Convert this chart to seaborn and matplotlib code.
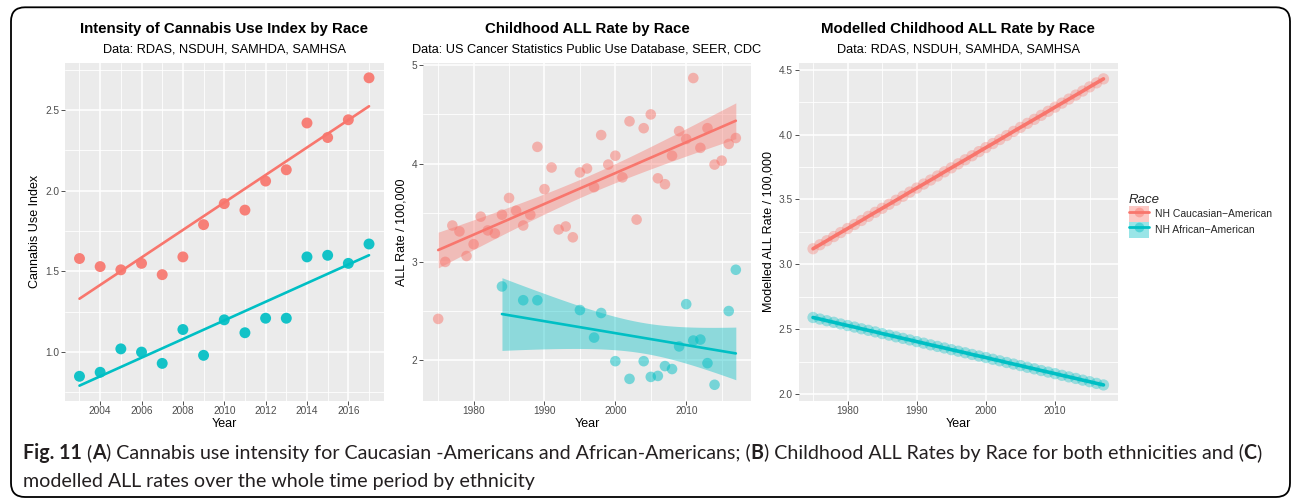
import matplotlib
matplotlib.use("Agg")
import matplotlib.pyplot as plt
from matplotlib import font_manager
from matplotlib.patches import FancyBboxPatch, Patch
from matplotlib.lines import Line2D
from matplotlib.legend_handler import HandlerTuple
from matplotlib.ticker import FixedLocator, FormatStrFormatter
from matplotlib.colors import to_rgba
import numpy as np
import pandas as pd
import seaborn as sns

# ---- Panel A: intensity of cannabis use index ----
years_use = [2003, 2004, 2005, 2006, 2007, 2008, 2009, 2010,
             2011, 2012, 2013, 2014, 2015, 2016, 2017]
use_caucasian = [1.58, 1.53, 1.51, 1.55, 1.48, 1.59, 1.79, 1.92,
                 1.88, 2.06, 2.13, 2.42, 2.33, 2.44, 2.70]
use_african = [0.85, 0.875, 1.02, 1.00, 0.93, 1.14, 0.98, 1.20,
               1.12, 1.21, 1.21, 1.59, 1.60, 1.55, 1.67]

# ---- Panel B: observed childhood ALL rate ----
years_all_caucasian = list(range(1975, 2018))
all_caucasian = [2.42, 3.00, 3.37, 3.31, 3.06, 3.18, 3.46, 3.32, 3.29, 3.48,
                 3.65, 3.52, 3.37, 3.48, 4.17, 3.74, 3.96, 3.33, 3.36, 3.25,
                 3.91, 3.95, 3.76, 4.29, 3.99, 4.08, 3.86, 4.43, 3.43, 4.36,
                 4.50, 3.85, 3.79, 4.08, 4.33, 4.25, 4.87, 4.16, 4.36, 3.99,
                 4.03, 4.20, 4.26]
years_all_african = [1984, 1987, 1989, 1995, 1997, 1998, 2000, 2002, 2004,
                     2005, 2006, 2007, 2008, 2009, 2010, 2011, 2012, 2013,
                     2014, 2016, 2017]
all_african = [2.75, 2.61, 2.61, 2.51, 2.23, 2.48, 1.99, 1.81, 1.99,
               1.83, 1.84, 1.94, 1.91, 2.14, 2.57, 2.20, 2.21, 1.97,
               1.75, 2.50, 2.92]

# ---- Panel C: modelled childhood ALL rate ----
years_model = list(range(1975, 2018))
model_caucasian = [3.120, 3.151, 3.182, 3.214, 3.245, 3.276, 3.307, 3.338,
                   3.370, 3.401, 3.432, 3.463, 3.494, 3.525, 3.557, 3.588,
                   3.619, 3.650, 3.681, 3.713, 3.744, 3.775, 3.806, 3.837,
                   3.869, 3.900, 3.931, 3.962, 3.993, 4.025, 4.056, 4.087,
                   4.118, 4.149, 4.180, 4.212, 4.243, 4.274, 4.305, 4.336,
                   4.368, 4.399, 4.430]
model_african = [2.590, 2.578, 2.565, 2.553, 2.540, 2.528, 2.516, 2.503,
                 2.491, 2.479, 2.466, 2.454, 2.441, 2.429, 2.417, 2.404,
                 2.392, 2.379, 2.367, 2.355, 2.342, 2.330, 2.318, 2.305,
                 2.293, 2.281, 2.268, 2.256, 2.243, 2.231, 2.219, 2.206,
                 2.194, 2.181, 2.169, 2.157, 2.144, 2.132, 2.120, 2.107,
                 2.095, 2.082, 2.070]

race_labels = ["NH Caucasian\u2212American", "NH African\u2212American"]

sns.set_theme(style="darkgrid")
available = {f.name for f in font_manager.fontManager.ttflist}
base_family = next((f for f in ("Liberation Sans", "Arimo", "Roboto") if f in available),
                   "DejaVu Sans")
plt.rcParams["font.family"] = [base_family, "DejaVu Sans"]

RED = "#F8766D"
CYAN = "#00BFC4"
PANEL = "#EBEBEB"
W, H = 1296, 499

fig = plt.figure(figsize=(W / 100, H / 100), dpi=100)
fig.patch.set_facecolor("white")


def add_panel(left, right, top=63.3, bottom=400.5):
    return fig.add_axes([left / W, 1 - bottom / H, (right - left) / W, (bottom - top) / H])


def style_panel(ax, xlim, ylim, xmaj, xmin, ymaj, ymin, yfmt, ylabel, ylab_x,
                title, subtitle):
    ax.set_facecolor(PANEL)
    ax.set_xlim(xlim)
    ax.set_ylim(ylim)
    ax.xaxis.set_major_locator(FixedLocator(xmaj))
    ax.xaxis.set_minor_locator(FixedLocator(xmin))
    ax.yaxis.set_major_locator(FixedLocator(ymaj))
    ax.yaxis.set_minor_locator(FixedLocator(ymin))
    ax.yaxis.set_major_formatter(FormatStrFormatter(yfmt))
    ax.xaxis.set_major_formatter(FormatStrFormatter("%d"))
    ax.grid(which="major", color="white", linewidth=1.15)
    ax.grid(which="minor", color="white", linewidth=0.6)
    ax.set_axisbelow(True)
    for s in ax.spines.values():
        s.set_visible(False)
    ax.tick_params(which="major", direction="out", length=2.75, width=0.6,
                   color="#333333", labelsize=7.3, labelcolor="#4D4D4D",
                   pad=1.5, bottom=True, left=True)
    ax.tick_params(which="minor", length=0, bottom=False, left=False)
    ax.set_xlabel("Year", fontsize=9, color="black")
    ax.set_ylabel(ylabel, fontsize=9, color="black")
    ax.xaxis.set_label_coords(0.5, -0.0706)
    ax.xaxis.label.set_verticalalignment("center")
    ax.yaxis.set_label_coords(ylab_x, 0.5)
    ax.yaxis.label.set_verticalalignment("center")
    bb = ax.get_position()
    cx = bb.x0 + bb.width / 2
    fig.text(cx, 1 - 29.5 / H, title, ha="center", va="center",
             fontsize=10.8, fontweight="bold", color="black")
    fig.text(cx, 1 - 50 / H, subtitle, ha="center", va="center",
             fontsize=9.2, color="black")


def t_quantile_975(df):
    # Cornish-Fisher expansion of the Student t 97.5% quantile
    z = 1.959964
    return (z + (z**3 + z) / (4 * df)
            + (5 * z**5 + 16 * z**3 + 3 * z) / (96 * df**2)
            + (3 * z**7 + 19 * z**5 + 17 * z**3 - 15 * z) / (384 * df**3))


def smooth_band(ax, x, y, color, alpha=0.4):
    # 95% confidence ribbon of a least-squares line (as geom_smooth(method="lm"))
    x = np.asarray(x, float)
    y = np.asarray(y, float)
    n = len(x)
    slope, intercept = np.polyfit(x, y, 1)
    resid = y - (intercept + slope * x)
    s = np.sqrt(np.sum(resid**2) / (n - 2))
    grid = np.linspace(x.min(), x.max(), 100)
    fit = intercept + slope * grid
    se = s * np.sqrt(1 / n + (grid - x.mean())**2 / np.sum((x - x.mean())**2))
    half = t_quantile_975(n - 2) * se
    ax.fill_between(grid, fit - half, fit + half, color=color, alpha=alpha,
                    linewidth=0, zorder=3)


# ---------------- Panel A ----------------
axA = add_panel(65, 383.5)
df_use = pd.DataFrame({"Year": years_use, "cauc": use_caucasian, "afr": use_african})
for col, c in (("cauc", RED), ("afr", CYAN)):
    sns.scatterplot(data=df_use, x="Year", y=col, color=c, s=62,
                    edgecolor="none", alpha=0.92, ax=axA, zorder=2)
    sns.regplot(data=df_use, x="Year", y=col, ci=None, scatter=False,
                color=c, line_kws=dict(linewidth=1.9, zorder=3), ax=axA)
style_panel(axA, (2002.3, 2017.7), (0.70, 2.79),
            [2004, 2006, 2008, 2010, 2012, 2014, 2016],
            [2003, 2005, 2007, 2009, 2011, 2013, 2015, 2017],
            [1.0, 1.5, 2.0, 2.5], [0.75, 1.25, 1.75, 2.25, 2.75], "%.1f",
            "Cannabis Use Index", -0.0942,
            "Intensity of Cannabis Use Index by Race",
            "Data: RDAS, NSDUH, SAMHDA, SAMHSA")

# ---------------- Panel B ----------------
axB = add_panel(423.3, 750.7)
df_bc = pd.DataFrame({"Year": years_all_caucasian, "rate": all_caucasian})
df_ba = pd.DataFrame({"Year": years_all_african, "rate": all_african})
for df, c in ((df_bc, RED), (df_ba, CYAN)):
    sns.scatterplot(data=df, x="Year", y="rate", color=c, s=58,
                    edgecolor="none", alpha=0.5, ax=axB, zorder=2)
    smooth_band(axB, df["Year"], df["rate"], c)
    sns.regplot(data=df, x="Year", y="rate", ci=None, scatter=False,
                color=c, line_kws=dict(linewidth=1.9, zorder=4), ax=axB)
style_panel(axB, (1972.9, 2019.1), (1.59, 5.02),
            [1980, 1990, 2000, 2010], [1975, 1985, 1995, 2005, 2015],
            [2, 3, 4, 5], [2.5, 3.5, 4.5], "%d",
            "ALL Rate / 100,000", -0.066,
            "Childhood ALL Rate by Race",
            "Data: US Cancer Statistics Public Use Database, SEER, CDC")

# ---------------- Panel C ----------------
axC = add_panel(798.5, 1118)
df_m = pd.DataFrame({"Year": years_model, "cauc": model_caucasian, "afr": model_african})
for col, c in (("cauc", RED), ("afr", CYAN)):
    sns.lineplot(data=df_m, x="Year", y=col, color=c, linewidth=2.6, ax=axC, zorder=3)
    sns.scatterplot(data=df_m, x="Year", y=col, color=c, s=66,
                    edgecolor="none", alpha=0.35, ax=axC, zorder=4)
style_panel(axC, (1972.9, 2019.1), (1.95, 4.55),
            [1980, 1990, 2000, 2010], [1975, 1985, 1995, 2005, 2015],
            [2.0, 2.5, 3.0, 3.5, 4.0, 4.5], [2.25, 2.75, 3.25, 3.75, 4.25], "%.1f",
            "Modelled ALL Rate / 100,000", -0.094,
            "Modelled Childhood ALL Rate by Race",
            "Data: RDAS, NSDUH, SAMHDA, SAMHSA")

# ---------------- Legend ----------------
handles = []
for c in (RED, CYAN):
    box = Patch(facecolor=to_rgba(c, 0.4), edgecolor="none")
    key = Line2D([], [], color=c, linewidth=2.0, marker="o", markersize=7,
                 markerfacecolor=to_rgba(c, 0.45), markeredgecolor="none")
    handles.append((box, key))
leg = fig.legend(handles, race_labels, handler_map={tuple: HandlerTuple(ndivide=1, pad=0)},
                 title="Race", loc="upper left",
                 bbox_to_anchor=(1129 / W, 1 - 194 / H), frameon=False,
                 fontsize=7.5, title_fontsize=9.5, handlelength=1.95,
                 handleheight=1.95, labelspacing=0.0, handletextpad=0.55,
                 borderpad=0, borderaxespad=0, alignment="left")
leg.get_title().set_fontstyle("italic")

# ---------------- Rounded frame ----------------
frame = FancyBboxPatch((0.11, 0.02), 12.79, 4.897,
                       boxstyle="round,pad=0,rounding_size=0.14",
                       transform=fig.dpi_scale_trans, fill=False,
                       edgecolor="black", linewidth=1.3)
fig.add_artist(frame)

# ---------------- Caption ----------------
cap_family = next((f for f in ("Liberation Sans Narrow", "Lato") if f in available), base_family)
renderer = fig.canvas.get_renderer()


def run_width(text, size, bold):
    kw = dict(fontsize=size, fontweight="bold" if bold else "normal", family=cap_family)
    t1 = fig.text(0, 0, "|" + text + "|", **kw)
    t2 = fig.text(0, 0, "||", **kw)
    w = t1.get_window_extent(renderer).width - t2.get_window_extent(renderer).width
    t1.remove()
    t2.remove()
    return w


def draw_runs(runs, x_px, y_px, size):
    x = x_px
    for text, bold in runs:
        fig.text(x / W, 1 - y_px / H, text, fontsize=size,
                 fontweight="bold" if bold else "normal", family=cap_family,
                 ha="left", va="center", color="#231F20")
        x += run_width(text, size, bold)


line1 = [("Fig. 11", True), (" (", False), ("A", True),
         (") Cannabis use intensity for Caucasian -Americans and African-Americans; (", False),
         ("B", True), (") Childhood ALL Rates by Race for both ethnicities and (", False),
         ("C", True), (")", False)]
line2 = [("modelled ALL rates over the whole time period by ethnicity", False)]

base = 14.0
w1 = sum(run_width(t, base, b) for t, b in line1)
cap_size = base * 1241 / w1
draw_runs(line1, 23, 453, cap_size)
draw_runs(line2, 23, 481, cap_size)

fig.savefig("out.png", dpi=100, facecolor="white")
